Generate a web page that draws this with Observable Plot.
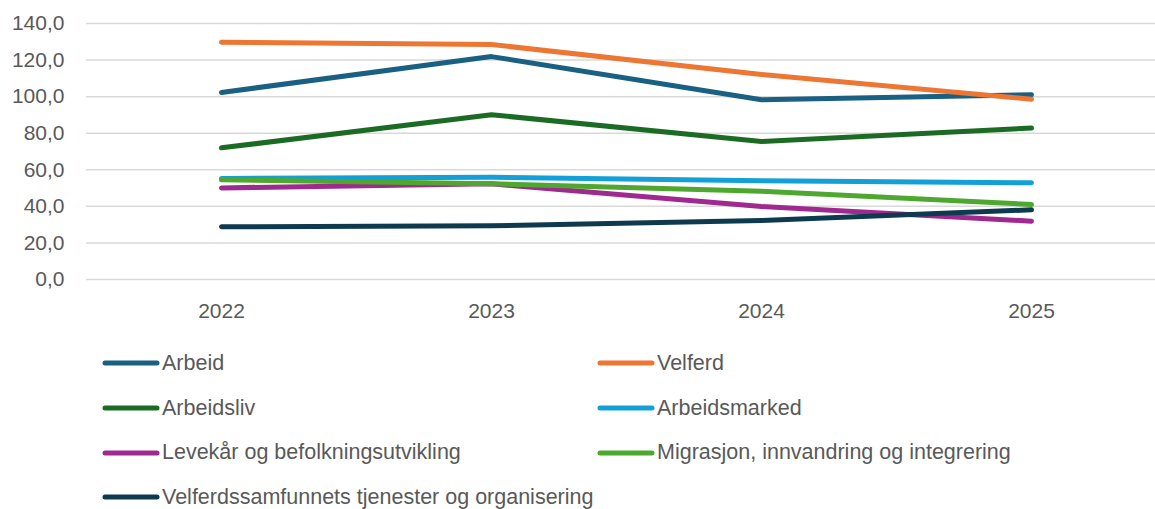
<!DOCTYPE html>
<html>
<head>
<meta charset="utf-8">
<script src="https://cdn.jsdelivr.net/npm/d3@7"></script>
<script src="https://cdn.jsdelivr.net/npm/@observablehq/plot@0.6"></script>
<style>
  html, body { margin: 0; padding: 0; background: #fff; }
  #chart svg { display: block; }
  #legend {
    display: grid;
    grid-template-columns: 495px 500px;
    padding-left: 102px;
    padding-top: 6px;
    font-family: "Liberation Sans", Arial, sans-serif;
    font-size: 21.5px;
    color: #595959;
  }
  .item { height: 44.7px; display: flex; align-items: center; white-space: nowrap; }
  .item svg { margin-right: 2px; }
</style>
</head>
<body>
<div id="chart"></div>
<div id="legend"></div>
<script>
const years = ["2022", "2023", "2024", "2025"];
const seriesNames = [
  "Arbeid",
  "Velferd",
  "Arbeidsliv",
  "Arbeidsmarked",
  "Levekår og befolkningsutvikling",
  "Migrasjon, innvandring og integrering",
  "Velferdssamfunnets tjenester og organisering"
];
const arbeid = [102.3, 121.9, 98.3, 101.0];
const velferd = [129.8, 128.5, 112.1, 98.6];
const arbeidsliv = [72.0, 90.1, 75.5, 82.8];
const arbeidsmarked = [55.3, 55.9, 54.0, 52.9];
const levekar = [50.1, 52.3, 39.9, 31.9];
const migrasjon = [54.5, 52.4, 48.3, 41.0];
const velferdssamfunnet = [28.8, 29.4, 32.3, 38.1];
const seriesValues = [arbeid, velferd, arbeidsliv, arbeidsmarked, levekar, migrasjon, velferdssamfunnet];
const colors = ["#196083", "#ED7633", "#1B6B24", "#13A0D8", "#A0298F", "#4EA72E", "#0E3A4F"];
const yTicks = [0, 20, 40, 60, 80, 100, 120, 140];

const data = [];
seriesNames.forEach((name, i) => {
  years.forEach((yr, j) => data.push({series: name, year: yr, value: seriesValues[i][j]}));
});

const fmt = d => d3.format(".1f")(d).replace(".", ",");

const chart = Plot.plot({
  width: 1155,
  height: 335,
  marginLeft: 86,
  marginRight: 0,
  marginTop: 23,
  marginBottom: 56,
  style: {fontFamily: "'Liberation Sans', Arial, sans-serif", fontSize: "21px", color: "#595959", background: "#fff"},
  x: {type: "point", domain: years, range: [220, 1032], padding: 0, label: null},
  y: {domain: [0, 140], label: null},
  color: {domain: seriesNames, range: colors},
  marks: [
    Plot.ruleY(yTicks, {stroke: "#d9d9d9", strokeWidth: 1.5}),
    Plot.axisY(yTicks, {tickSize: 0, tickPadding: 22, tickFormat: fmt, fontSize: 21, fill: "#595959", label: null}),
    Plot.axisX({tickSize: 0, tickPadding: 24, fontSize: 21, fill: "#595959", label: null}),
    Plot.line(data, {x: "year", y: "value", z: "series", stroke: "series", strokeWidth: 5, strokeLinecap: "round", strokeLinejoin: "round"})
  ]
});
document.getElementById("chart").appendChild(chart);

const legend = document.getElementById("legend");
seriesNames.forEach((name, i) => {
  const div = document.createElement("div");
  div.className = "item";
  div.innerHTML = `<svg width="58" height="8"><line x1="3" y1="4" x2="55" y2="4" stroke="${colors[i]}" stroke-width="5" stroke-linecap="round"/></svg><span>${name}</span>`;
  legend.appendChild(div);
});
</script>
</body>
</html>
